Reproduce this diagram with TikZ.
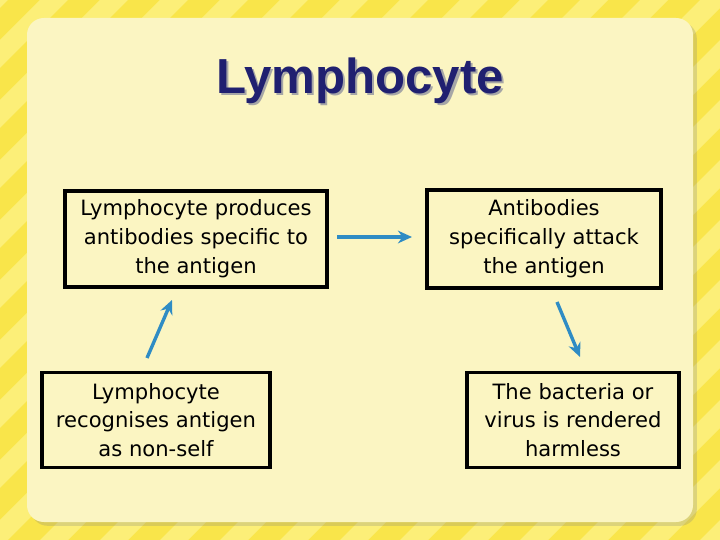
\documentclass[tikz,border=0pt]{standalone}
\usepackage{fontspec}
\setmainfont{DejaVu Sans}
\newfontfamily\titlefont{Liberation Sans}
\usetikzlibrary{arrows.meta,positioning,calc,shadows}
\definecolor{bgyellow}{HTML}{F9E54A}
\definecolor{stripeyellow}{HTML}{FCEF78}
\definecolor{panelyellow}{HTML}{FBF5C2}
\definecolor{titlenavy}{HTML}{202070}
\definecolor{arrowblue}{HTML}{2F8CC4}

\begin{document}
\begin{tikzpicture}[
    stepbox/.style={
        draw=black,
        line width=2.2pt,
        align=center,
        inner sep=0pt,
        font=\fontsize{15}{20.5}\selectfont
    },
    arrow/.style={
        -{Stealth[length=10pt,width=9pt]},
        line width=2.4pt,
        color=arrowblue
    }
]
% Background with diagonal stripes
\useasboundingbox (0,0) rectangle (18,13.5);
\fill[bgyellow] (0,0) rectangle (18,13.5);
\begin{scope}
\clip (0,0) rectangle (18,13.5);
\foreach \s in {-14,-12.5,...,18} {
    \fill[stripeyellow] (\s,0) -- ++(0.7,0) -- ++(13.5,13.5) -- ++(-0.7,0) -- cycle;
}
\end{scope}
\fill[panelyellow, rounded corners=12pt, drop shadow={opacity=0.25}] (0.675,0.45) rectangle (17.325,13.05);

% Title
\node[font=\titlefont\fontsize{35}{40}\selectfont\bfseries, text=titlenavy] (title) at (9,11.45)
    {\rlap{\kern1.5pt\raisebox{-1.5pt}{\color{black!35}Lymphocyte}}Lymphocyte};

% Boxes
\node[stepbox, minimum width=6.55cm, minimum height=2.4cm] (produces) at (4.9,7.525) {Lymphocyte produces\\antibodies specific to\\the antigen};
\node[stepbox, minimum width=5.85cm, minimum height=2.45cm] (attack) at (13.6,7.525) {Antibodies\\specifically attack\\the antigen};
\node[stepbox, minimum width=5.7cm, minimum height=2.37cm] (recognises) at (3.9,3.0) {Lymphocyte\\recognises antigen\\as non-self};
\node[stepbox, minimum width=5.3cm, minimum height=2.37cm] (harmless) at (14.325,3.0) {The bacteria or\\virus is rendered\\harmless};

% Arrows
\coordinate (a1) at (8.425,7.575);
\coordinate (a2) at (10.3,7.575);
\coordinate (b1) at (3.675,4.55);
\coordinate (b2) at (4.3,6.0);
\coordinate (c1) at (13.925,5.95);
\coordinate (c2) at (14.5,4.575);
\draw[arrow] (a1) -- (a2);
\draw[arrow] (b1) -- (b2);
\draw[arrow] (c1) -- (c2);
\end{tikzpicture}
\end{document}
